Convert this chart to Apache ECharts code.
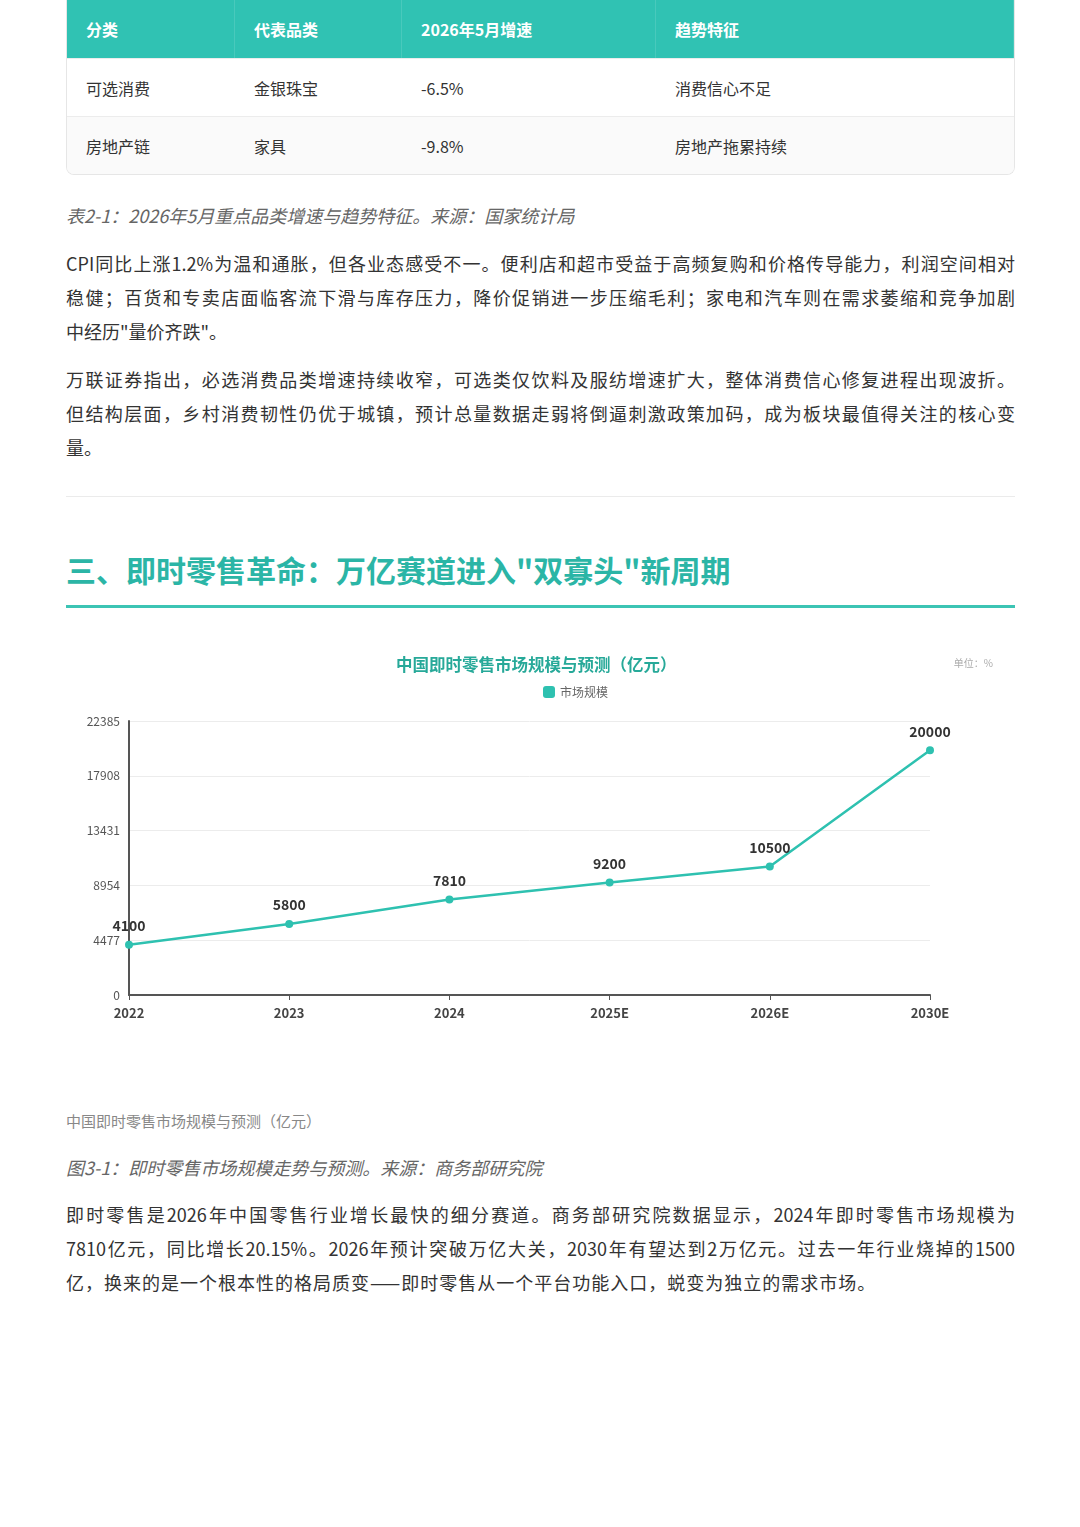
<!DOCTYPE html>
<html>
<head>
<meta charset="utf-8">
<script src="https://cdn.jsdelivr.net/npm/echarts@6/dist/echarts.min.js"></script>
<style>
  html, body { margin: 0; padding: 0; background: #fff; }
  body { width: 1080px; height: 1527px; position: relative; overflow: hidden;
         font-family: "Noto Sans CJK SC", "Noto Sans", sans-serif; color: #333; }
  .blk { position: absolute; left: 66px; width: 949px; }
  table { border-collapse: separate; border-spacing: 0; width: 949px; font-size: 16px;
          border: 1px solid #e6e6e6; border-top: none; border-radius: 0 0 8px 8px; overflow: hidden; }
  th { background: #30c2b3; color: #fff; font-weight: 600; text-align: left; height: 58px;
       padding: 0 0 0 19px; border-right: 1px solid rgba(255,255,255,0.12); }
  td { height: 57px; padding: 0 0 0 19px; border-top: 1px solid #ececec; }
  tr.alt td { background: #fafafa; }
  .cap { font-style: italic; color: #666; font-size: 18px; }
  p { margin: 0; font-size: 18px; line-height: 34px; }
  p span { display: block; text-align: justify; text-align-last: justify; }
  p span.last { text-align-last: left; }
  .hr { position: absolute; left: 66px; width: 949px; height: 1px; background: #ebebeb; }
  h2 { margin: 0; font-size: 30px; color: #2bb5a6; font-weight: bold; }
  .uline { position: absolute; left: 66px; width: 949px; height: 3px; background: #3cc4b4; }
  .small { color: #888; font-size: 15px; }
</style>
</head>
<body>
<div class="blk" style="top:0">
  <table>
    <tr><th style="width:148px">分类</th><th style="width:147px">代表品类</th><th style="width:234px">2026年5月增速</th><th>趋势特征</th></tr>
    <tr><td>可选消费</td><td>金银珠宝</td><td>-6.5%</td><td>消费信心不足</td></tr>
    <tr class="alt"><td>房地产链</td><td>家具</td><td>-9.8%</td><td>房地产拖累持续</td></tr>
  </table>
</div>
<div class="blk cap" style="top:202px">表2-1：2026年5月重点品类增速与趋势特征。来源：国家统计局</div>
<div class="blk" style="top:246px">
  <p><span>CPI同比上涨1.2%为温和通胀，但各业态感受不一。便利店和超市受益于高频复购和价格传导能力，利润空间相对</span><span>稳健；百货和专卖店面临客流下滑与库存压力，降价促销进一步压缩毛利；家电和汽车则在需求萎缩和竞争加剧</span><span class="last">中经历"量价齐跌"。</span></p>
  <p style="margin-top:14px"><span>万联证券指出，必选消费品类增速持续收窄，可选类仅饮料及服纺增速扩大，整体消费信心修复进程出现波折。</span><span>但结构层面，乡村消费韧性仍优于城镇，预计总量数据走弱将倒逼刺激政策加码，成为板块最值得关注的核心变</span><span class="last">量。</span></p>
</div>
<div class="hr" style="top:496px"></div>
<div class="blk" style="top:547px"><h2>三、即时零售革命：万亿赛道进入"双寡头"新周期</h2></div>
<div class="uline" style="top:605px"></div>
<div id="chart" class="blk" style="top:630px; height:440px"></div>
<div class="blk small" style="top:1110px">中国即时零售市场规模与预测（亿元）</div>
<div class="blk cap" style="top:1154px">图3-1：即时零售市场规模走势与预测。来源：商务部研究院</div>
<div class="blk" style="top:1197px">
  <p><span>即时零售是2026年中国零售行业增长最快的细分赛道。商务部研究院数据显示，2024年即时零售市场规模为</span><span>7810亿元，同比增长20.15%。2026年预计突破万亿大关，2030年有望达到2万亿元。过去一年行业烧掉的1500</span><span class="last" style="letter-spacing:1px">亿，换来的是一个根本性的格局质变——即时零售从一个平台功能入口，蜕变为独立的需求市场。</span></p>
</div>
<script>
var years = ['2022', '2023', '2024', '2025E', '2026E', '2030E'];
var marketSize = [4100, 5800, 7810, 9200, 10500, 20000];
var yMax = 22385;
var yStep = 4477;

var chart = echarts.init(document.getElementById('chart'));
var font = '"Noto Sans CJK SC", "Noto Sans", sans-serif';
option = {
    color: ['#2ec1b0'],
    textStyle: {fontFamily: font},
    title: {
        text: '中国即时零售市场规模与预测（亿元）',
        left: 325,
        top: 21,
        textStyle: {fontSize: 16.5, fontWeight: 'bold', color: '#27a999', fontFamily: font}
    },
    legend: {
        data: ['市场规模'],
        top: 51,
        left: 472,
        icon: 'roundRect',
        itemWidth: 12,
        itemHeight: 12,
        itemGap: 6,
        textStyle: {fontSize: 12, color: '#666', fontFamily: font}
    },
    graphic: [{
        type: 'text',
        right: 22,
        top: 28,
        style: {text: '单位：%', fontSize: 10, fill: '#aaa', fontFamily: font}
    }],
    grid: {left: 63, right: 85, top: 91, bottom: 75, containLabel: false},
    xAxis: {
        type: 'category',
        boundaryGap: false,
        data: years,
        axisLine: {lineStyle: {color: '#555', width: 2}},
        axisTick: {show: true, alignWithLabel: true, lineStyle: {color: '#555'}},
        axisLabel: {fontSize: 13, fontWeight: 'bold', color: '#444', margin: 12, fontFamily: font}
    },
    yAxis: {
        type: 'value',
        min: 0,
        max: yMax,
        interval: yStep,
        axisLine: {show: true, lineStyle: {color: '#555', width: 2}},
        axisTick: {show: false},
        axisLabel: {fontSize: 12, color: '#555', margin: 9, fontFamily: font,
            formatter: function (v) { return String(v); }},
        splitLine: {lineStyle: {color: '#ececec'}}
    },
    series: [{
        name: '市场规模',
        type: 'line',
        data: marketSize,
        symbol: 'circle',
        symbolSize: 8,
        lineStyle: {width: 2.5},
        label: {show: true, position: 'top', distance: 8, fontSize: 14, fontWeight: 'bold', color: '#333', fontFamily: font}
    }]
};
chart.setOption(option);
</script>
</body>
</html>
